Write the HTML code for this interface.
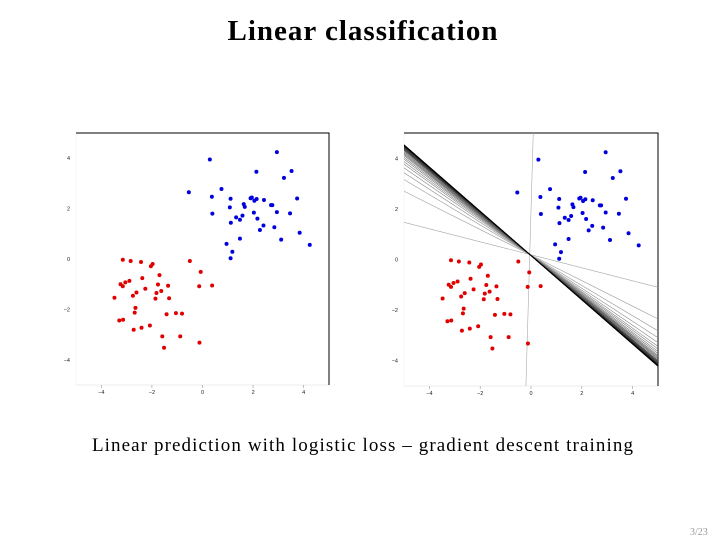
<!DOCTYPE html>
<html><head><meta charset="utf-8"><style>
body{margin:0;width:726px;height:544px;background:#fff;position:relative;overflow:hidden;font-family:"Liberation Serif",serif}
#title{position:absolute;top:15px;left:0;width:726px;text-align:center;font-weight:bold;font-size:29px;letter-spacing:1px}
#caption{position:absolute;top:435px;left:0;width:726px;text-align:center;font-size:19px;letter-spacing:1.1px}
#pg{position:absolute;left:690px;top:527px;font-size:10px;color:#999}
svg{position:absolute;left:0;top:0}
</style></head><body>
<div id="title">Linear classification</div>
<svg id="chart" width="726" height="544"></svg>
<div id="caption">Linear prediction with logistic loss – gradient descent training</div>
<div id="pg">3/23</div>
<script>
const ticks=[-4,-2,0,2,4];
const blueX=[0.29,2.94,2.13,3.52,3.22,-0.54,0.75,0.37,1.11,1.90,1.95,2.05,2.14,2.43,2.71,2.76,3.74,1.08,1.63,1.67,0.39,2.03,2.94,3.46,1.33,1.48,1.58,1.12,2.17,2.41,2.27,2.84,3.84,0.95,1.48,3.11,4.24,1.18,1.11];
const blueY=[3.95,4.24,3.46,3.49,3.22,2.65,2.78,2.47,2.39,2.41,2.44,2.31,2.38,2.34,2.14,2.14,2.40,2.05,2.18,2.07,1.80,1.84,1.86,1.81,1.65,1.56,1.72,1.44,1.60,1.33,1.15,1.26,1.04,0.60,0.81,0.77,0.56,0.29,0.03];
const redX=[-3.15,-2.84,-2.43,-1.97,-2.04,-0.50,-0.07,-1.70,-2.38,-2.89,-3.05,-3.24,-3.15,-1.76,-1.36,-2.26,-2.61,-2.75,-1.82,-1.63,-1.86,-1.32,-3.48,-0.13,0.38,-2.65,-2.68,-1.42,-1.05,-0.81,-3.29,-3.14,-2.72,-2.41,-2.08,-1.59,-0.88,-1.52,-0.12];
const redY=[-0.03,-0.08,-0.12,-0.20,-0.29,-0.08,-0.51,-0.64,-0.76,-0.87,-0.93,-1.00,-1.08,-1.01,-1.06,-1.18,-1.33,-1.46,-1.35,-1.27,-1.57,-1.56,-1.54,-1.08,-1.05,-1.94,-2.13,-2.19,-2.15,-2.17,-2.44,-2.41,-2.81,-2.73,-2.64,-3.07,-3.07,-3.52,-3.32];
// decision boundaries w1*x + w2*y + b = 0 through pivot
const lineW1=[1,0.257,0.505,0.598,0.652,0.691,0.72,0.74,0.76,0.775,0.79,0.80,0.81,0.82,0.83,0.835,0.84,0.845,0.85,0.855,0.86,0.863,0.866,0.869,0.871,0.873,0.875];
const lineW2=[-0.029,1,1,1,1,1,1,1,1,1,1,1,1,1,1,1,1,1,1,1,1,1,1,1,1,1,1];
const pivot=[-0.05,0.2];
const NS="http://www.w3.org/2000/svg";
const svg=document.getElementById('chart');
function mk(tag,attrs,parent){const e=document.createElementNS(NS,tag);for(const k in attrs)e.setAttribute(k,attrs[k]);(parent||svg).appendChild(e);return e;}
function panel(L,R,T,B,withLines,nm){
  const g=mk('g',{});
  
  
  const sx=v=>L+(v+5)/10*(R-L), sy=v=>B-(v+5)/10*(B-T);
  mk('line',{x1:L,y1:B,x2:R,y2:B,stroke:'#ddd','stroke-width':0.6},g);
  mk('line',{x1:L,y1:T,x2:L,y2:B,stroke:'#eee','stroke-width':0.6},g);
  mk('polyline',{points:`${L},${T} ${R},${T} ${R},${B}`,fill:'none',stroke:'#000','stroke-width':1},g);
  ticks.forEach(t=>{
    mk('line',{x1:sx(t),y1:B,x2:sx(t),y2:B+3,stroke:'#999','stroke-width':0.6},g);
    const tx=mk('text',{x:sx(t),y:B+9,'font-size':5.5,'text-anchor':'middle','font-family':'Liberation Sans, sans-serif',fill:'#222'},g);
    tx.textContent=t===0?'0':(t<0?'−'+(-t):String(t));
    
    
    const ty=mk('text',{x:L-6,y:sy(t)+2,'font-size':5.5,'text-anchor':'end','font-family':'Liberation Sans, sans-serif',fill:'#222'},g);
    ty.textContent=t===0?'0':(t<0?'−'+(-t):String(t));
    
    
  });
  if(withLines){
    const cp=mk('clipPath',{id:'cp'+nm},g);
    mk('rect',{x:L,y:T,width:R-L,height:B-T},cp);
    const lg=mk('g',{'clip-path':`url(#cp${nm})`},g);
    const n=lineW1.length;
    lineW1.forEach((w1,i)=>{
      const w2=lineW2[i], b=-(w1*pivot[0]+w2*pivot[1]);
      let p1,p2;
      if(Math.abs(w2)<Math.abs(w1)){p1=[-(w2*6+b)/w1,6];p2=[-(w2*-6+b)/w1,-6];}
      else{p1=[-6,-(w1*-6+b)/w2];p2=[6,-(w1*6+b)/w2];}
      const c=Math.round(170*(1-i/(n-1)));
      const ln=mk('line',{x1:sx(p1[0]),y1:sy(p1[1]),x2:sx(p2[0]),y2:sy(p2[1]),stroke:`rgb(${c},${c},${c})`,'stroke-width':i>n-6?0.9:0.6},lg);
      
      
    });
  }
  blueX.forEach((x,i)=>{const c=mk('circle',{cx:sx(x),cy:sy(blueY[i]),r:2,fill:'#0000dd'},g);
    
    });
  redX.forEach((x,i)=>{const c=mk('circle',{cx:sx(x),cy:sy(redY[i]),r:2,fill:'#e00000'},g);
    
    });
}
panel(76,329,133,385,false,'left-scatter');
panel(404,658,133,386,true,'right-scatter');
</script>
</body></html>
